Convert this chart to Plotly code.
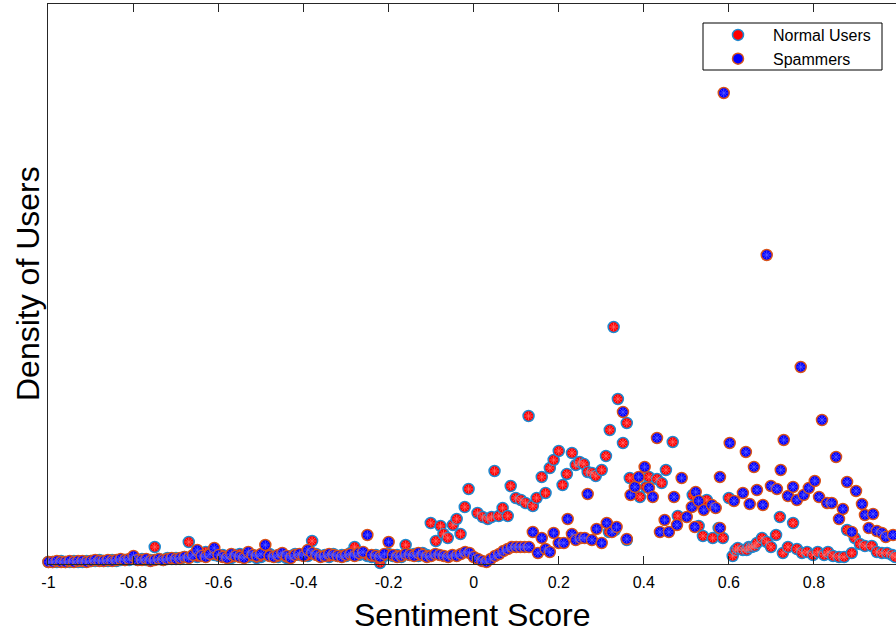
import plotly.graph_objects as go

# ---------------------------------------------------------------------------
# Data: density of users against sentiment score
# Low-sentiment region is a regular band of 0.01-wide bins starting at -1.
# ---------------------------------------------------------------------------
def bin_centres(n):
    return [round(-1 + 0.01 * i, 2) for i in range(n)]

NORMAL_BAND_Y = [
    0.02, 0.02, 0.02, 0.03, 0.02, 0.02, 0.03, 0.02, 0.02, 0.03,
    0.03, 0.03, 0.04, 0.03, 0.03, 0.04, 0.03, 0.04, 0.04, 0.04,
    0.05, 0.04, 0.05, 0.04, 0.04, 0.17, 0.05, 0.04, 0.06, 0.05,
    0.06, 0.05, 0.07, 0.22, 0.08, 0.07, 0.09, 0.12, 0.10, 0.09,
    0.08, 0.09, 0.07, 0.06, 0.09, 0.10, 0.08, 0.07, 0.09, 0.06,
    0.07, 0.09, 0.10, 0.08, 0.07, 0.09, 0.06, 0.08, 0.10, 0.09,
    0.09, 0.08, 0.23, 0.10, 0.08, 0.09, 0.07, 0.10, 0.08, 0.09,
    0.08, 0.11, 0.17, 0.09, 0.10, 0.08, 0.07, 0.09, 0.01, 0.08,
    0.10, 0.08, 0.09, 0.07, 0.19, 0.09, 0.10, 0.08, 0.11, 0.09,
]

NORMAL_X = [
    -0.101, -0.089, -0.078, -0.071, -0.061, -0.049, -0.040, -0.031, -0.021, -0.012,
    0.009, 0.021, 0.033, 0.042, 0.049, 0.059, 0.068, 0.080, 0.087, 0.099,
    0.111, 0.122, 0.129, 0.139, 0.148, 0.160, 0.169, 0.179, 0.188, 0.200,
    0.209, 0.219, 0.231, 0.240, 0.249, 0.259, 0.268, 0.278, 0.287, 0.301,
    0.311, 0.318, 0.320, 0.329, 0.332, 0.339, 0.351, 0.360, 0.360, 0.367,
    0.391, 0.405, 0.412, 0.431, 0.442, 0.452, 0.468, 0.480, 0.515, 0.529,
    0.539, 0.548, 0.562, 0.576, 0.586, 0.600, 0.609, 0.616, 0.621, 0.633,
    0.642, 0.647, 0.654, 0.661, 0.666, 0.678, 0.689, 0.699, 0.711, 0.720,
    0.727, 0.739, 0.751, 0.760, 0.772, 0.784, 0.798, 0.809, 0.824, 0.833,
    0.845, 0.859, 0.871, 0.878, 0.889, 0.896, 0.908, 0.920, 0.936, 0.948,
    0.960, 0.972, 0.984, 0.991,
]
NORMAL_Y = [
    0.41, 0.23, 0.38, 0.30, 0.26, 0.39, 0.45, 0.30, 0.57, 0.75,
    0.51, 0.47, 0.45, 0.47, 0.93, 0.48, 0.56, 0.48, 0.78, 0.66,
    0.64, 0.61, 1.48, 0.58, 0.66, 0.87, 0.71, 0.96, 1.04, 1.13,
    0.79, 0.90, 1.11, 0.99, 1.02, 1.00, 0.92, 0.91, 0.88, 0.94,
    1.08, 0.32, 1.34, 2.37, 0.34, 1.65, 1.21, 1.41, 0.24, 0.86,
    0.67, 0.77, 0.87, 0.85, 0.81, 0.94, 1.22, 0.48, 0.69, 0.38,
    0.28, 0.64, 0.26, 0.36, 0.26, 0.66, 0.08, 0.14, 0.16, 0.14,
    0.14, 0.17, 0.17, 0.18, 0.21, 0.26, 0.22, 0.17, 0.29, 0.47,
    0.11, 0.17, 0.41, 0.15, 0.11, 0.12, 0.09, 0.12, 0.09, 0.12,
    0.08, 0.07, 0.07, 0.34, 0.11, 0.26, 0.20, 0.18, 0.18, 0.12,
    0.11, 0.11, 0.09, 0.07,
]

SPAM_BAND_Y = [
    0.02, 0.02, 0.03, 0.02, 0.02, 0.03, 0.02, 0.03, 0.03, 0.02,
    0.03, 0.04, 0.03, 0.03, 0.04, 0.03, 0.04, 0.05, 0.04, 0.05,
    0.08, 0.04, 0.04, 0.05, 0.03, 0.04, 0.05, 0.04, 0.05, 0.06,
    0.05, 0.06, 0.07, 0.06, 0.09, 0.14, 0.08, 0.07, 0.10, 0.16,
    0.09, 0.07, 0.06, 0.10, 0.08, 0.07, 0.06, 0.12, 0.09, 0.08,
    0.10, 0.19, 0.08, 0.07, 0.09, 0.11, 0.08, 0.06, 0.09, 0.10,
    0.08, 0.14, 0.11, 0.09, 0.07, 0.08, 0.10, 0.09, 0.08, 0.07,
    0.09, 0.10, 0.08, 0.11, 0.12, 0.29, 0.09, 0.08, 0.07, 0.10,
    0.22, 0.09, 0.07, 0.08, 0.10, 0.09, 0.08, 0.11, 0.09, 0.07,
    0.08, 0.10, 0.09, 0.08, 0.07, 0.09, 0.08, 0.10, 0.12, 0.11,
    0.07, 0.05, 0.03, 0.02, 0.05, 0.08, 0.10, 0.13, 0.15, 0.17,
    0.17, 0.17, 0.17, 0.17,
]

SPAM_X = [
    0.139, 0.151, 0.160, 0.169, 0.179, 0.188, 0.200, 0.212, 0.221, 0.231,
    0.240, 0.252, 0.261, 0.268, 0.278, 0.289, 0.301, 0.313, 0.325, 0.336,
    0.351, 0.360, 0.369, 0.379, 0.388, 0.402, 0.412, 0.421, 0.431, 0.438,
    0.449, 0.459, 0.471, 0.478, 0.489, 0.501, 0.513, 0.520, 0.522, 0.529,
    0.541, 0.560, 0.569, 0.579, 0.579, 0.588, 0.602, 0.612, 0.633, 0.640,
    0.649, 0.659, 0.666, 0.680, 0.689, 0.699, 0.713, 0.722, 0.729, 0.739,
    0.751, 0.760, 0.769, 0.776, 0.788, 0.802, 0.812, 0.819, 0.831, 0.842,
    0.852, 0.859, 0.868, 0.878, 0.889, 0.899, 0.913, 0.920, 0.929, 0.939,
    0.948, 0.960, 0.969, 0.986,
]
SPAM_Y = [
    0.32, 0.11, 0.26, 0.15, 0.12, 0.31, 0.21, 0.21, 0.45, 0.30,
    0.24, 0.26, 0.26, 0.70, 0.24, 0.35, 0.21, 0.41, 0.32, 0.37,
    1.52, 0.25, 0.69, 0.77, 0.87, 0.97, 0.76, 0.67, 1.26, 0.32,
    0.44, 0.32, 0.67, 0.39, 0.86, 0.47, 0.57, 0.37, 0.72, 0.63,
    0.54, 0.59, 0.56, 0.87, 0.36, 4.71, 1.21, 0.63, 0.71, 1.12,
    0.60, 0.97, 0.74, 0.59, 3.09, 0.78, 0.75, 0.94, 1.24, 0.68,
    0.77, 0.64, 1.97, 0.69, 0.76, 0.83, 0.67, 1.44, 0.61, 0.61,
    1.07, 0.45, 0.55, 0.82, 0.32, 0.73, 0.60, 0.49, 0.36, 0.50,
    0.33, 0.31, 0.27, 0.29,
]

X_TICKS = [-1, -0.8, -0.6, -0.4, -0.2, 0, 0.2, 0.4, 0.6, 0.8, 1]
X_TICK_LABELS = ["-1", "-0.8", "-0.6", "-0.4", "-0.2", "0", "0.2", "0.4", "0.6", "0.8", "1"]

normal_x = bin_centres(len(NORMAL_BAND_Y)) + NORMAL_X
normal_y = NORMAL_BAND_Y + NORMAL_Y
spam_x = bin_centres(len(SPAM_BAND_Y)) + SPAM_X
spam_y = SPAM_BAND_Y + SPAM_Y

# ---------------------------------------------------------------------------
# Styling
# ---------------------------------------------------------------------------
AXIS_COLOR = "#262626"
FONT = "Liberation Sans, Arial, Helvetica, sans-serif"

NORMAL_FILL, NORMAL_EDGE, NORMAL_STAR = "#ff0000", "#1f8ad0", "#ff6a6a"
SPAM_FILL, SPAM_EDGE, SPAM_STAR = "#0000ff", "#d95319", "#5a5aff"

MARKER_SIZE = 11

fig = go.Figure()

# Normal users: filled circles with an asterisk on top
fig.add_trace(go.Scatter(
    x=normal_x, y=normal_y, mode="markers", name="Normal Users",
    cliponaxis=False,
    marker=dict(symbol="circle", size=MARKER_SIZE, color=NORMAL_FILL,
                line=dict(color=NORMAL_EDGE, width=1.5)),
))
fig.add_trace(go.Scatter(
    x=normal_x, y=normal_y, mode="markers", showlegend=False, hoverinfo="skip",
    cliponaxis=False,
    marker=dict(symbol="asterisk-open", size=7, color=NORMAL_STAR,
                line=dict(color=NORMAL_STAR, width=0.8)),
))

# Spammers drawn afterwards so they sit on top
fig.add_trace(go.Scatter(
    x=spam_x, y=spam_y, mode="markers", name="Spammers",
    cliponaxis=False,
    marker=dict(symbol="circle", size=MARKER_SIZE, color=SPAM_FILL,
                line=dict(color=SPAM_EDGE, width=1.5)),
))
fig.add_trace(go.Scatter(
    x=spam_x, y=spam_y, mode="markers", showlegend=False, hoverinfo="skip",
    cliponaxis=False,
    marker=dict(symbol="asterisk-open", size=7, color=SPAM_STAR,
                line=dict(color=SPAM_STAR, width=0.8)),
))

# Plot area spans x 48..896 px and y 4..564 px; convert pixel layout to paper units
PLOT_L, PLOT_W, PLOT_B, PLOT_H = 48, 848, 564, 560

def px_x(p):
    return (p - PLOT_L) / PLOT_W

def px_y(p):
    return (PLOT_B - p) / PLOT_H

fig.update_layout(
    width=896, height=634,
    margin=dict(l=48, r=0, t=4, b=70, autoexpand=False),
    paper_bgcolor="white", plot_bgcolor="white",
    font=dict(family=FONT, color="#000000"),
    showlegend=True,
    legend=dict(
        x=px_x(703), y=px_y(18), xanchor="left", yanchor="top",
        bgcolor="rgba(0,0,0,0)", borderwidth=0,
        font=dict(size=16, family=FONT, color="#000000"),
        itemwidth=60, tracegroupgap=0,
    ),
    shapes=[
        # legend frame
        dict(type="rect", xref="paper", yref="paper", layer="above",
             x0=px_x(703), x1=px_x(882), y0=px_y(70), y1=px_y(23),
             line=dict(color="#000000", width=1), fillcolor="white"),
    ],
    annotations=[
        dict(text="Sentiment Score", xref="paper", yref="paper",
             x=px_x(473), y=px_y(615), xanchor="center", yanchor="middle",
             showarrow=False, font=dict(size=32, family=FONT, color="#000000")),
        dict(text="Density of Users", xref="paper", yref="paper",
             x=px_x(28), y=px_y(284), xanchor="center", yanchor="middle",
             textangle=-90, showarrow=False,
             font=dict(size=32, family=FONT, color="#000000")),
    ],
    xaxis=dict(
        range=[-1.001, 0.993],
        tickmode="array", tickvals=X_TICKS, ticktext=X_TICK_LABELS,
        ticks="inside", ticklen=8, tickwidth=1, tickcolor=AXIS_COLOR,
        showline=True, linecolor=AXIS_COLOR, linewidth=1, mirror="ticks",
        showgrid=False, zeroline=False, ticklabelstandoff=4,
        tickfont=dict(size=16, color="#000000"),
        automargin=False,
    ),
    yaxis=dict(
        range=[0, 5.6],
        showticklabels=False, ticks="",
        showline=True, linecolor=AXIS_COLOR, linewidth=1, mirror=False,
        showgrid=False, zeroline=False,
        automargin=False,
    ),
)

fig.write_html("out.html")
